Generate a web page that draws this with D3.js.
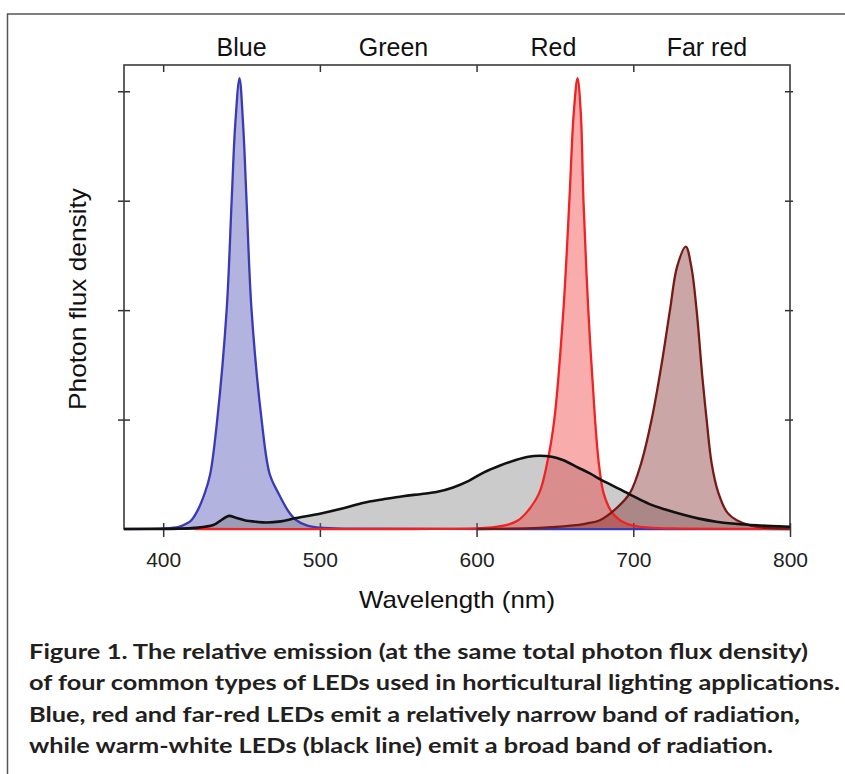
<!DOCTYPE html>
<html>
<head>
<meta charset="utf-8">
<script src="https://cdn.jsdelivr.net/npm/d3@7"></script>
<style>
  body { margin: 0; background: #fff; }
  svg { display: block; }
</style>
</head>
<body>
<div id="viz-chart"></div>
<script>
// band labels over the plot, placed at these wavelengths
const bandLabels = ["Blue", "Green", "Red", "Far red"];
const bandCenters = [450, 547, 649, 747];
const xTicks = [400, 500, 600, 700, 800];
const yTicks = [1, 2, 3, 4];

// spectra (nm, relative photon flux)
const blueNm = [375, 400, 410, 415, 418, 422, 426.6, 430, 434.5, 440.5, 443.7, 446, 448.7, 451, 453.2, 456.4, 462.8, 468, 473.4, 480, 485, 492, 500, 520, 800];
const blueVal = [0, 0.005, 0.02, 0.05, 0.08, 0.17, 0.33, 0.5, 1.0, 2.0, 3.0, 3.7, 4.12, 3.7, 3.0, 2.0, 1.0, 0.5, 0.33, 0.16, 0.08, 0.03, 0.012, 0.003, 0];

const whiteNm = [375, 410, 420, 432, 438, 442, 446, 452, 460, 466, 475, 485, 500, 515, 528, 540, 553, 565, 575, 585, 595, 605, 615, 625, 633, 640, 648, 655, 665, 672, 682, 692, 700, 710, 720, 732, 742, 753, 763, 775, 788, 800];
const whiteVal = [0, 0.003, 0.01, 0.036, 0.09, 0.12, 0.105, 0.08, 0.065, 0.06, 0.07, 0.1, 0.14, 0.19, 0.24, 0.27, 0.3, 0.32, 0.34, 0.38, 0.44, 0.52, 0.58, 0.63, 0.66, 0.67, 0.66, 0.63, 0.56, 0.51, 0.43, 0.36, 0.3, 0.23, 0.18, 0.13, 0.095, 0.067, 0.05, 0.037, 0.027, 0.02];

const redNm = [420, 560, 600, 610, 620, 626.6, 633, 640, 645, 649.6, 655.4, 659.2, 662, 664.4, 666.5, 668.2, 671.3, 675.6, 678, 681, 686, 691.5, 700, 710, 730, 800];
const redVal = [0, 0, 0.005, 0.015, 0.04, 0.08, 0.17, 0.33, 0.6, 1.0, 2.0, 3.0, 3.8, 4.12, 3.8, 3.0, 2.0, 1.0, 0.6, 0.33, 0.16, 0.08, 0.03, 0.012, 0.004, 0];

const farRedNm = [600, 640, 660, 670, 678.7, 690, 697.9, 705, 711.7, 718, 723.4, 728, 733.5, 737, 740.4, 744, 746.8, 750, 754.3, 760, 766, 775, 785, 800];
const farRedVal = [0, 0.01, 0.03, 0.05, 0.08, 0.2, 0.33, 0.6, 1.0, 1.5, 2.0, 2.4, 2.58, 2.4, 2.0, 1.4, 1.0, 0.6, 0.33, 0.15, 0.08, 0.03, 0.01, 0.003];

const captionLines = [
  "Figure 1. The relative emission (at the same total photon flux density)",
  "of four common types of LEDs used in horticultural lighting applications.",
  "Blue, red and far-red LEDs emit a relatively narrow band of radiation,",
  "while warm-white LEDs (black line) emit a broad band of radiation."
];

const zip = (nm, val) => nm.map((d, i) => [d, val[i]]);

const series = [
  { name: "blue", pts: zip(blueNm, blueVal), fill: "#4040b0", fillOp: 0.4, stroke: "#3a3ab4" },
  { name: "white", pts: zip(whiteNm, whiteVal), fill: "#777", fillOp: 0.38, stroke: "#111" },
  { name: "red", pts: zip(redNm, redVal), fill: "#ee3030", fillOp: 0.4, stroke: "#ef2323" },
  { name: "farred", pts: zip(farRedNm, farRedVal), fill: "#7a2020", fillOp: 0.4, stroke: "#761a16" }
];

const width = 845;
const height = 774;

const svg = d3
  .select("#viz-chart")
  .append("svg")
  .attr("width", width)
  .attr("height", height)
  .style("font-family", "'Liberation Sans', Arial, Helvetica, sans-serif");

// outer frame, runs off the right and bottom edges
svg
  .append("rect")
  .attr("x", 7.5)
  .attr("y", 14)
  .attr("width", 900)
  .attr("height", 900)
  .attr("fill", "none")
  .attr("stroke", "#555")
  .attr("stroke-width", 1.5);

const x = d3.scaleLinear().domain([375, 800]).range([124, 790]);
const y = d3.scaleLinear().domain([0, 4.24]).range([529, 65]);

// axes: ticks cross the frame
const bottomAxis = svg
  .append("g")
  .attr("transform", `translate(0,${y(0)})`)
  .call(d3.axisBottom(x).tickValues(xTicks).tickSize(8).tickPadding(15));
bottomAxis.selectAll(".tick line").attr("y1", -6);
bottomAxis
  .selectAll(".tick text")
  .style("font-size", "21px")
  .style("fill", "#222");

const topAxis = svg
  .append("g")
  .attr("transform", `translate(0,${y.range()[1]})`)
  .call(d3.axisTop(x).tickValues(xTicks.slice(0, 4)).tickSize(0).tickFormat(""));
topAxis.selectAll(".tick line").attr("y2", 7);

const leftAxis = svg
  .append("g")
  .attr("transform", `translate(${x.range()[0]},0)`)
  .call(d3.axisLeft(y).tickValues(yTicks).tickSize(6).tickFormat(""));
leftAxis.selectAll(".tick line").attr("x1", 6);

const rightAxis = svg
  .append("g")
  .attr("transform", `translate(${x.range()[1]},0)`)
  .call(d3.axisRight(y).tickValues(yTicks).tickSize(3).tickFormat(""));
rightAxis.selectAll(".tick line").attr("x1", -5);

svg.selectAll(".domain").remove();
svg
  .selectAll(".tick line")
  .attr("stroke", "#333")
  .attr("stroke-width", 1.5);

svg
  .append("rect")
  .attr("x", x.range()[0])
  .attr("y", y.range()[1])
  .attr("width", x.range()[1] - x.range()[0])
  .attr("height", y.range()[0] - y.range()[1])
  .attr("fill", "none")
  .attr("stroke", "#3a3a3a")
  .attr("stroke-width", 1.6);

// curves
const smooth = d3.curveCatmullRom.alpha(0.5);

const area = d3
  .area()
  .x((d) => x(d[0]))
  .y0(y(0))
  .y1((d) => y(Math.max(0, d[1])))
  .curve(smooth);

const line = d3
  .line()
  .x((d) => x(d[0]))
  .y((d) => y(d[1]))
  .curve(smooth);

svg
  .selectAll("path.fill")
  .data(series)
  .enter()
  .append("path")
  .attr("class", "fill")
  .attr("d", (d) => area(d.pts))
  .attr("fill", (d) => d.fill)
  .attr("fill-opacity", (d) => d.fillOp);

const lineOrder = ["blue", "red", "farred", "white"];
svg
  .selectAll("path.curve")
  .data(lineOrder.map((n) => series.find((s) => s.name === n)))
  .enter()
  .append("path")
  .attr("class", "curve")
  .attr("d", (d) => line(d.pts))
  .attr("fill", "none")
  .attr("stroke", (d) => d.stroke)
  .attr("stroke-width", (d) => (d.name === "white" ? 2.6 : 2.3))
  .attr("stroke-linejoin", "round");

// band labels along the top
svg
  .selectAll("text.band")
  .data(bandLabels)
  .enter()
  .append("text")
  .attr("class", "band")
  .attr("x", (d, i) => x(bandCenters[i]))
  .attr("y", 56)
  .attr("text-anchor", "middle")
  .style("font-size", "25px")
  .style("fill", "#111")
  .text((d) => d);

// axis titles
svg
  .append("text")
  .attr("x", 457)
  .attr("y", 608)
  .attr("text-anchor", "middle")
  .attr("textLength", 196)
  .attr("lengthAdjust", "spacingAndGlyphs")
  .style("font-size", "24px")
  .style("fill", "#111")
  .text("Wavelength (nm)");

svg
  .append("text")
  .attr("transform", "translate(86,299) rotate(-90)")
  .attr("text-anchor", "middle")
  .attr("textLength", 222)
  .attr("lengthAdjust", "spacingAndGlyphs")
  .style("font-size", "24px")
  .style("fill", "#111")
  .text("Photon flux density");

// caption
const captionWidths = [779, 811, 771, 744];
svg
  .selectAll("text.caption")
  .data(captionLines)
  .enter()
  .append("text")
  .attr("class", "caption")
  .attr("x", 29)
  .attr("y", (d, i) => 659 + i * 31.4)
  .attr("textLength", (d, i) => captionWidths[i])
  .attr("lengthAdjust", "spacingAndGlyphs")
  .style("font-family", "Lato, 'Open Sans', sans-serif")
  .style("font-weight", "bold")
  .style("font-size", "21px")
  .style("fill", "#231f20")
  .text((d) => d);
</script>
</body>
</html>
